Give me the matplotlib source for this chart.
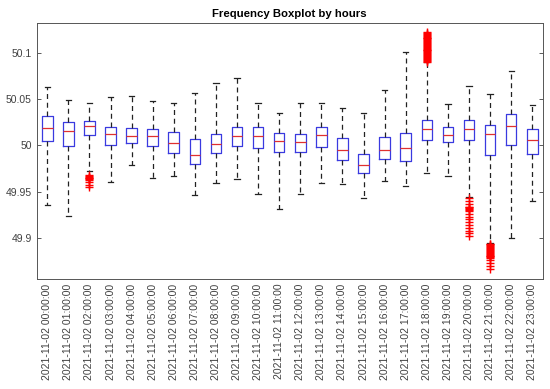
import matplotlib
matplotlib.use("Agg")
import matplotlib.pyplot as plt

hours = [f"2021-11-02 {h:02d}:00:00" for h in range(24)]

whisker_low = [49.936, 49.924, 49.972, 49.960, 49.979, 49.965, 49.967, 49.946,
               49.959, 49.964, 49.948, 49.931, 49.948, 49.959, 49.958, 49.943,
               49.962, 49.956, 49.970, 49.967, 49.944, 49.895, 49.900, 49.940]
q1 = [50.0047, 49.9989, 50.0116, 50.0004, 50.0025, 49.9993, 49.9921, 49.9794,
      49.9917, 49.9989, 49.9968, 49.9924, 49.9931, 49.9982, 49.9845, 49.9697,
      49.9848, 49.9827, 50.0061, 50.0036, 50.0058, 49.9899, 50.0000, 49.9906]
medians = [50.0184, 50.0159, 50.0206, 50.0119, 50.0105, 50.0097, 50.0025, 49.9899,
           50.0018, 50.0097, 50.0105, 50.0051, 50.0040, 50.0116, 49.9949, 49.9791,
           49.9946, 49.9971, 50.0177, 50.0116, 50.0173, 50.0119, 50.0209, 50.0061]
q3 = [50.0318, 50.0249, 50.0260, 50.0202, 50.0184, 50.0177, 50.0144, 50.0065,
      50.0119, 50.0195, 50.0195, 50.0134, 50.0119, 50.0195, 50.0083, 49.9910,
      50.0087, 50.0130, 50.0271, 50.0202, 50.0271, 50.0217, 50.0339, 50.0177]
whisker_high = [50.0628, 50.0495, 50.0455, 50.0527, 50.0538, 50.0477, 50.0458, 50.0567,
                50.0679, 50.0726, 50.0458, 50.0347, 50.0462, 50.0462, 50.0401, 50.0347,
                50.0599, 50.1007, 50.0899, 50.0448, 50.0639, 50.0552, 50.0805, 50.0437]

outliers = {
    2: [49.968, 49.967, 49.966, 49.965, 49.9645, 49.964, 49.963, 49.960, 49.957, 49.955],
    18: [50.0905, 50.0915, 50.0925, 50.0935, 50.0945, 50.0955, 50.0965, 50.0975,
         50.0985, 50.0995, 50.1005, 50.1015, 50.1025, 50.1035, 50.1045, 50.1055,
         50.1065, 50.1075, 50.1085, 50.1095, 50.1105, 50.1115, 50.1125, 50.1135,
         50.1145, 50.1155, 50.1165, 50.1175, 50.1185, 50.1195, 50.1205, 50.1215, 50.1225],
    20: [49.943, 49.940, 49.937, 49.934, 49.933, 49.932, 49.931, 49.930, 49.929,
         49.926, 49.923, 49.920, 49.917, 49.914, 49.911, 49.908, 49.905, 49.902],
    21: [49.894, 49.893, 49.892, 49.891, 49.890, 49.889, 49.888, 49.887, 49.886,
         49.885, 49.884, 49.883, 49.882, 49.881, 49.880, 49.879, 49.878, 49.876,
         49.873, 49.870, 49.867],
}

plt.rcParams['font.family'] = ['Liberation Sans', 'DejaVu Sans']

fig = plt.figure(figsize=(5.5, 3.89), dpi=100)
ax = fig.add_axes([0.0667, 0.2835, 0.9203, 0.6581])

stats = []
for i in range(len(hours)):
    stats.append(dict(med=medians[i], q1=q1[i], q3=q3[i],
                      whislo=whisker_low[i], whishi=whisker_high[i],
                      fliers=outliers.get(i, []), label=hours[i]))

positions = list(range(1, len(hours) + 1))
ax.bxp(stats, positions=positions, widths=0.5, showfliers=True,
       boxprops=dict(color='#3a3ae0', linewidth=0.9),
       medianprops=dict(color='#e03030', linewidth=0.9),
       whiskerprops=dict(color='#222222', linestyle=(0, (4, 3)), linewidth=0.9),
       capprops=dict(color='#222222', linewidth=0.9),
       flierprops=dict(marker='+', markeredgecolor='#ff0000', markersize=6,
                       markeredgewidth=1.0, linestyle='none'))

ax.set_xlim(0.5, 24.5)
ax.set_ylim(49.856, 50.1325)
ax.set_yticks([49.9, 49.95, 50.0, 50.05, 50.1])
ax.set_yticklabels(['49.9', '49.95', '50', '50.05', '50.1'])
ax.set_xticks(positions)
ax.set_xticklabels(hours, rotation=90)
ax.tick_params(axis='both', direction='in', length=3, labelsize=7.5,
               colors='#404040', right=True, top=False, width=0.6)
ax.tick_params(axis='x', length=0)
for s in ax.spines.values():
    s.set_color('#555555')
    s.set_linewidth(0.7)
ax.set_title('Frequency Boxplot by hours', fontsize=8.2, fontweight='bold', pad=4)

fig.savefig('out.png', dpi=100)
